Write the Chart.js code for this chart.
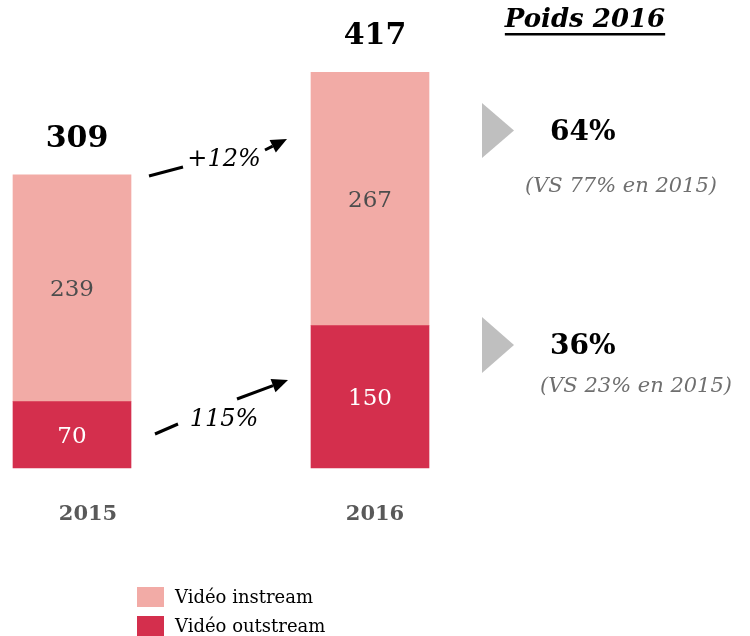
<!DOCTYPE html>
<html>
<head>
<meta charset="utf-8">
<script src="https://cdn.jsdelivr.net/npm/chart.js@4/dist/chart.umd.min.js"></script>
<style>html,body{margin:0;background:#fff}</style>
</head>
<body>
<canvas id="c" width="750" height="636"></canvas>
<script>
// data
const years = ['2015', '2016'];
const instream = [239, 267];
const outstream = [70, 150];
const totals = [309, 417];
const growthLabels = ['+12%', '115%'];
const share2016 = ['64%', '36%'];
const share2015 = ['(VS 77% en 2015)', '(VS 23% en 2015)'];
const seriesNames = ['Vidéo instream', 'Vidéo outstream'];

const PINK = '#f2aba6';
const RED = '#d42f4d';
const SERIF = "'DejaVu Serif', serif";

function arrow(ctx, x1, y1, x2, y2){
  const a = Math.atan2(y2 - y1, x2 - x1);
  const hl = 16, hw = 7;
  const bx = x2 - hl * Math.cos(a), by = y2 - hl * Math.sin(a);
  ctx.beginPath();
  ctx.moveTo(x1, y1); ctx.lineTo(bx, by);
  ctx.stroke();
  ctx.beginPath();
  ctx.moveTo(x2, y2);
  ctx.lineTo(bx + hw * Math.sin(a), by - hw * Math.cos(a));
  ctx.lineTo(bx - hw * Math.sin(a), by + hw * Math.cos(a));
  ctx.closePath();
  ctx.fill();
}

function line(ctx, x1, y1, x2, y2){
  ctx.beginPath(); ctx.moveTo(x1, y1); ctx.lineTo(x2, y2); ctx.stroke();
}

function triangle(ctx, x, yTop, yBot, tipX){
  ctx.beginPath();
  ctx.moveTo(x, yTop);
  ctx.lineTo(tipX, (yTop + yBot) / 2);
  ctx.lineTo(x, yBot);
  ctx.closePath();
  ctx.fill();
}

const labelsPlugin = {
  id: 'labels',
  afterDatasetsDraw(chart){
    const ctx = chart.ctx;
    ctx.save();
    ctx.textAlign = 'center';
    ctx.textBaseline = 'middle';
    // values inside bars
    chart.data.datasets.forEach((ds, di) => {
      const meta = chart.getDatasetMeta(di);
      meta.data.forEach((el, i) => {
        ctx.font = '23px ' + SERIF;
        ctx.fillStyle = di === 0 ? '#ffffff' : '#4d4d4d';
        ctx.fillText(String(ds.data[i]), el.x, (el.y + el.base) / 2 + 2);
      });
    });
    // totals on top
    const top = chart.getDatasetMeta(1);
    top.data.forEach((el, i) => {
      ctx.font = 'bold 30px ' + SERIF;
      ctx.fillStyle = '#000';
      ctx.fillText(String(totals[i]), el.x + 5, el.y - 36);
    });
    // year labels under bars
    const xs = chart.scales.x;
    ctx.font = 'bold 21px ' + SERIF;
    ctx.fillStyle = '#595959';
    years.forEach((y, i) => {
      ctx.fillText(y, xs.getPixelForValue(i) + (i === 0 ? 16 : 5), 515);
    });

    // growth arrows
    ctx.strokeStyle = '#000';
    ctx.fillStyle = '#000';
    ctx.lineWidth = 3;
    line(ctx, 149, 176, 183, 167);
    arrow(ctx, 265, 150, 287, 139);
    line(ctx, 155, 434, 178, 424);
    arrow(ctx, 237, 399, 288, 380);
    ctx.font = 'italic 24px ' + SERIF;
    ctx.fillText(growthLabels[0], 224, 160);
    ctx.fillText(growthLabels[1], 224, 420);

    // right side: weights 2016
    ctx.font = 'bold italic 26px ' + SERIF;
    ctx.fillText('Poids 2016', 585, 20);
    const w = ctx.measureText('Poids 2016').width;
    ctx.fillRect(585 - w / 2, 33, w, 2.5);

    ctx.fillStyle = '#bfbfbf';
    triangle(ctx, 482, 103, 158, 514);
    triangle(ctx, 482, 317, 373, 514);

    ctx.textAlign = 'left';
    ctx.fillStyle = '#000';
    ctx.font = 'bold 28px ' + SERIF;
    ctx.fillText(share2016[0], 550, 133);
    ctx.fillText(share2016[1], 550, 347);
    ctx.fillStyle = '#6f6f6f';
    ctx.font = 'italic 21px ' + SERIF;
    ctx.fillText(share2015[0], 525, 187);
    ctx.fillText(share2015[1], 540, 387);

    // legend
    const leg = [PINK, RED];
    leg.forEach((col, i) => {
      const y = 587 + i * 29;
      ctx.fillStyle = col;
      ctx.fillRect(137, y, 27, 20);
      ctx.fillStyle = '#000';
      ctx.font = '18px ' + SERIF;
      ctx.fillText(seriesNames[i], 175, y + 11);
    });
    ctx.restore();
  }
};

new Chart(document.getElementById('c'), {
  type: 'bar',
  data: {
    labels: years,
    datasets: [
      { label: seriesNames[1], data: outstream, backgroundColor: RED, barThickness: 118, clip: false },
      { label: seriesNames[0], data: instream, backgroundColor: PINK, barThickness: 118, clip: false }
    ]
  },
  options: {
    responsive: false,
    animation: false,
    layout: { padding: { left: 72, right: 380, top: 41, bottom: 168 } },
    plugins: { legend: { display: false }, tooltip: { enabled: false } },
    scales: {
      x: { stacked: true, offset: false, display: false },
      y: { stacked: true, min: 0, max: 450, display: false }
    }
  },
  plugins: [labelsPlugin]
});
</script>
</body>
</html>
